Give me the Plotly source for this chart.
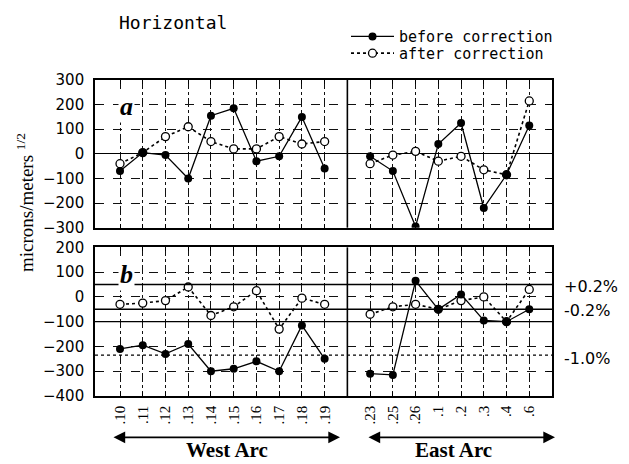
import plotly.graph_objects as go

# ---------------- data ----------------
west_labels = [".10", ".11", ".12", ".13", ".14", ".15", ".16", ".17", ".18", ".19"]
east_labels = [".23", ".25", ".26", ".1", ".2", ".3", ".4", ".6"]

a_before_west = [-70, 5, -5, -100, 155, 185, -30, -10, 150, -60]
a_after_west = [-40, 5, 70, 110, 50, 20, 20, 70, 40, 50]
a_before_east = [-10, -70, -295, 40, 125, -220, -85, 115]
a_after_east = [-40, -5, 10, -30, -10, -65, -85, 215]

b_before_west = [-210, -195, -230, -190, -300, -290, -260, -300, -115, -250]
b_after_west = [-30, -25, -15, 40, -75, -40, 25, -130, -5, -30]
b_before_east = [-310, -315, 65, -50, 10, -95, -100, -50]
b_after_east = [-70, -40, -30, -50, -15, 0, -100, 30]

ref_levels = [50, -50, -235]
ref_labels = ["+0.2%", "-0.2%", "-1.0%"]
ref_label_y = [40, -56, -248]

# ---------------- positions ----------------
west_x = list(range(len(west_labels)))
east_x = [len(west_labels) + 1 + i for i in range(len(east_labels))]
divider_x = len(west_labels)
all_x = west_x + east_x
all_labels = west_labels + east_labels


def joined(w, e):
    return west_x + [None] + east_x, list(w) + [None] + list(e)


fig = go.Figure()

SERIF = "Liberation Serif"
SANS = "DejaVu Sans"
MONO = "DejaVu Sans Mono"


def add_panel(before_w, before_e, after_w, after_e, xa, ya, show):
    x, y = joined(after_w, after_e)
    fig.add_trace(go.Scatter(
        x=x, y=y, xaxis=xa, yaxis=ya, mode="lines+markers", name="after correction",
        line=dict(color="black", width=1.6, dash="dot"),
        marker=dict(symbol="circle", size=8, color="white", line=dict(color="black", width=1.3)),
        connectgaps=False, showlegend=show, legend="legend2"))
    x, y = joined(before_w, before_e)
    fig.add_trace(go.Scatter(
        x=x, y=y, xaxis=xa, yaxis=ya, mode="lines+markers", name="before correction",
        line=dict(color="black", width=1.3),
        marker=dict(symbol="circle", size=8, color="black"),
        connectgaps=False, showlegend=show, legend="legend"))


add_panel(a_before_west, a_before_east, a_after_west, a_after_east, "x", "y", True)
add_panel(b_before_west, b_before_east, b_after_west, b_after_east, "x2", "y2", False)

# page has an 8px body margin: figure drawn from (8, 8)
OFF = 8
W, H = 629 - OFF, 464 - OFF
ml, mr, mt, mb = 95 - OFF, 77, 75 - OFF, 68
ph = H - mt - mb
pw = W - ml - mr
dom_a = [1 - 150 / ph, 1]
dom_b = [0, 151 / ph]


def py(page_y):
    """page pixel y -> paper y"""
    return (H - mb - (page_y - OFF)) / ph


def px(page_x):
    """page pixel x -> paper x"""
    return (page_x - OFF - ml) / pw


common_x = dict(range=[-1.1, 19.0], tickvals=all_x, showgrid=True, gridcolor="#111",
                gridwidth=0.8, griddash="dashdot", showline=True, linecolor="black",
                linewidth=1.6, mirror="ticks", ticks="inside", ticklen=4, tickcolor="black",
                zeroline=False)
common_y = dict(dtick=100, showgrid=True, gridcolor="#111", gridwidth=0.8, griddash="dash",
                showline=True, linecolor="black", linewidth=1.6, mirror="ticks",
                ticks="inside", ticklen=5, tickcolor="black",
                tickfont=dict(family=SANS, size=15, color="black"), ticklabelstandoff=6)

leg_common = dict(xanchor="left", yanchor="middle", font=dict(family=MONO, size=15, color="black"),
                  bgcolor="rgba(0,0,0,0)", itemwidth=43, tracegroupgap=0)

fig.update_layout(
    width=W, height=H, margin=dict(l=ml, r=mr, t=mt, b=mb),
    paper_bgcolor="white", plot_bgcolor="white",
    xaxis=dict(domain=[0, 1], anchor="y", showticklabels=False, **common_x),
    xaxis2=dict(domain=[0, 1], anchor="y2", matches="x", ticktext=all_labels,
                tickangle=-90, tickfont=dict(family=SERIF, size=15, color="black"),
                ticklabelstandoff=2, **common_x),
    yaxis=dict(domain=dom_a, anchor="x", range=[-300, 300], zeroline=True,
               zerolinecolor="black", zerolinewidth=1.3, **common_y),
    yaxis2=dict(domain=dom_b, anchor="x2", range=[-400, 200], zeroline=False, **common_y),
    legend=dict(x=px(346), y=py(31), **leg_common),
    legend2=dict(x=px(346), y=py(48), **leg_common),
    showlegend=True,
)

shapes = []
for xr, yr in [("x", "y domain"), ("x2", "y2 domain")]:
    shapes.append(dict(type="line", xref=xr, yref=yr, x0=divider_x, x1=divider_x, y0=0, y1=1,
                       line=dict(color="black", width=1.6)))
for lvl in ref_levels[:2]:
    shapes.append(dict(type="line", xref="x2 domain", yref="y2", x0=0, x1=1, y0=lvl, y1=lvl,
                       line=dict(color="black", width=1.4)))
shapes.append(dict(type="line", xref="x2 domain", yref="y2", x0=0, x1=1, y0=-100, y1=-100,
                   line=dict(color="black", width=1.1)))
shapes.append(dict(type="line", xref="x2 domain", yref="y2", x0=0, x1=1,
                   y0=ref_levels[2], y1=ref_levels[2],
                   line=dict(color="black", width=1.4, dash="3px,3px")))
fig.update_layout(shapes=shapes)

ann = []
ann.append(dict(text="Horizontal", xref="paper", yref="paper",
                x=px(117), y=py(17), xanchor="left", yanchor="middle",
                showarrow=False, font=dict(family=MONO, size=18, color="black")))
ann.append(dict(text="<i><b>a</b></i>", xref="x", yref="y", x=0.3, y=192, showarrow=False,
                bgcolor="white", font=dict(family=SERIF, size=26, color="black"),
                xanchor="center", yanchor="middle"))
ann.append(dict(text="<i><b>b</b></i>", xref="x2", yref="y2", x=0.3, y=92, showarrow=False,
                bgcolor="white", font=dict(family=SERIF, size=26, color="black"),
                xanchor="center", yanchor="middle"))
for t, yv in zip(ref_labels, ref_label_y):
    ann.append(dict(text=t, xref="paper", yref="y2", x=px(562), y=yv, xanchor="left",
                    yanchor="middle", showarrow=False,
                    font=dict(family=SANS, size=16, color="black")))
ann.append(dict(text="microns/meters <sup>1/2</sup>", xref="paper", yref="paper",
                x=px(25), y=py(200), textangle=-90,
                showarrow=False, xanchor="center", yanchor="middle",
                font=dict(family=SERIF, size=19, color="black")))

arrow_y = py(438)
for x0p, x1p, label, cx in [(112, 340, "West Arc", 227), (367, 555, "East Arc", 453)]:
    ann.append(dict(text="", xref="x2 domain", yref="paper", axref="x2 domain", ayref="pixel",
                    x=px(x1p), y=arrow_y, ax=px(x0p), ay=0,
                    showarrow=True, arrowhead=2, arrowside="end+start", arrowsize=1.3,
                    arrowwidth=1.8, arrowcolor="black"))
    ann.append(dict(text="<b>" + label + "</b>", xref="paper", yref="paper",
                    x=px(cx), y=py(451), showarrow=False,
                    xanchor="center", yanchor="middle",
                    font=dict(family=SERIF, size=21, color="black")))
fig.update_layout(annotations=ann)

fig.write_html("out.html")
